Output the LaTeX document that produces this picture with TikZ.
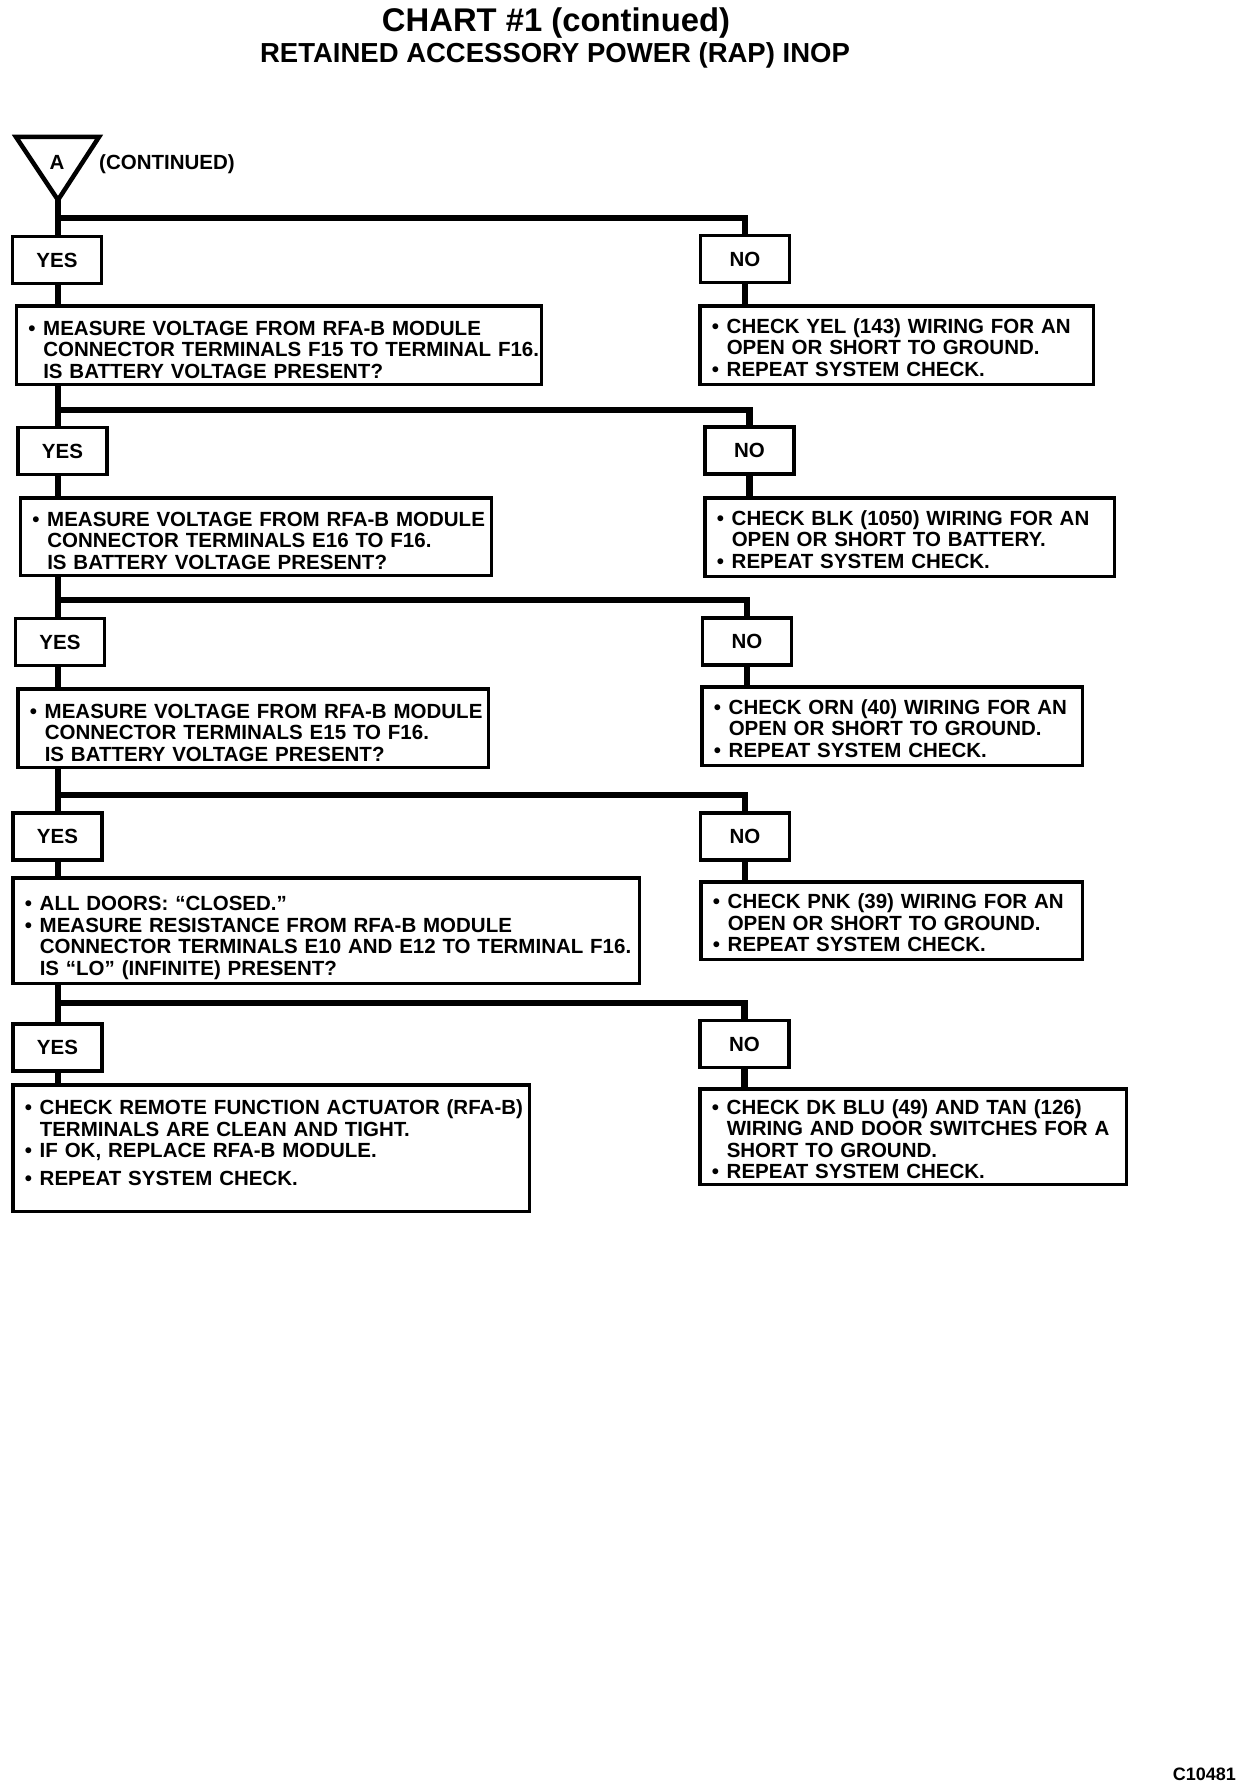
\documentclass[tikz,border=0pt]{standalone}
\usepackage{fontspec}
\setmainfont{Liberation Sans}
\usepackage{tikz}
\setlength{\parindent}{0pt}
\hfuzz=60pt
\newcommand{\boxfont}{\fontsize{20.5}{21.5}\selectfont\bfseries}
\newcommand{\bul}[1]{\mbox{\makebox[15pt][l]{\textbullet}#1}}
\newcommand{\ind}[1]{\mbox{\hspace*{15pt}#1}}
\tikzset{
	ans/.style={draw, line width=3.5pt, minimum width=89pt, minimum height=47pt, inner sep=0pt, font=\boxfont},
	msg/.style={draw, line width=3.5pt, anchor=north west, inner xsep=12pt, inner ysep=4pt, align=left, font=\boxfont},
	textdrop/.style={execute at begin node={\rule{0pt}{#1pt}}},
	wire/.style={line width=6.5pt},
	elbow/.style={to path={-| (\tikztotarget)}},
}

\begin{document}
\begin{tikzpicture}[x=1pt,y=-1pt]
		\path[fill=white,use as bounding box] (0,0) rectangle (1248,1790);
		%
		\node[anchor=base,font=\fontsize{32.8}{36}\selectfont\bfseries] (title) at (556,32) {CHART \#1 (continued)};
		\node[anchor=base,font=\fontsize{27.5}{30}\selectfont\bfseries] (subtitle) at (555,63) {RETAINED ACCESSORY POWER (RAP) INOP};
		%
		\coordinate (apex) at (58,200);
		\draw[line width=4.5pt] (16,137) -- (99,137) -- (apex) -- cycle;
		\node[anchor=base,font=\boxfont,inner sep=0pt] (lblA) at (57,169.5) {A};
		\node[anchor=base west,font=\boxfont,inner sep=0pt] (cont) at (99,169.5) {(CONTINUED)};
		%
		\node[ans] (yes1) at (57,260) {YES};
		\node[ans] (no1) at (745,259) {NO};
		\node[ans] (yes2) at (62.5,451) {YES};
		\node[ans] (no2) at (749.5,450.5) {NO};
		\node[ans] (yes3) at (60,642) {YES};
		\node[ans] (no3) at (747,641.5) {NO};
		\node[ans] (yes4) at (57.5,836.5) {YES};
		\node[ans] (no4) at (745,836.5) {NO};
		\node[ans] (yes5) at (57.5,1047.5) {YES};
		\node[ans] (no5) at (744.5,1044) {NO};
		%
		\node[msg, textdrop=24, text width=501pt, minimum height=78.5pt] (m1) at (14.5,304)
		{\bul{MEASURE VOLTAGE FROM RFA-B MODULE}\\\ind{CONNECTOR TERMINALS F15 TO TERMINAL F16.}\\\ind{IS BATTERY VOLTAGE PRESENT?}};
		\node[msg, textdrop=23, text width=447pt, minimum height=77.5pt] (m2) at (18.5,496)
		{\bul{MEASURE VOLTAGE FROM RFA-B MODULE}\\\ind{CONNECTOR TERMINALS E16 TO F16.}\\\ind{IS BATTERY VOLTAGE PRESENT?}};
		\node[msg, textdrop=24, text width=446.5pt, minimum height=78.5pt] (m3) at (16,687)
		{\bul{MEASURE VOLTAGE FROM RFA-B MODULE}\\\ind{CONNECTOR TERMINALS E15 TO F16.}\\\ind{IS BATTERY VOLTAGE PRESENT?}};
		\node[msg, textdrop=29, text width=602.5pt, minimum height=105.5pt] (m4) at (11,876)
		{\bul{ALL DOORS: ``CLOSED.''}\\\bul{MEASURE RESISTANCE FROM RFA-B MODULE}\\\ind{CONNECTOR TERMINALS E10 AND E12 TO TERMINAL F16.}\\\ind{IS ``LO'' (INFINITE) PRESENT?}};
		\node[msg, text width=492.5pt, minimum height=126.5pt] (m5) at (11,1083)
		{\bul{CHECK REMOTE FUNCTION ACTUATOR (RFA-B)}\\\ind{TERMINALS ARE CLEAN AND TIGHT.}\\\bul{IF OK, REPLACE RFA-B MODULE.}\\[6pt]\bul{REPEAT SYSTEM CHECK.}\rule[-11pt]{0pt}{11pt}};
		%
		\node[msg, textdrop=20, text width=369.5pt, minimum height=78.5pt] (n1) at (698,304)
		{\bul{CHECK YEL (143) WIRING FOR AN}\\\ind{OPEN OR SHORT TO GROUND.}\\\bul{REPEAT SYSTEM CHECK.}};
		\node[msg, textdrop=20, text width=385.5pt, minimum height=78.5pt] (n2) at (703,496)
		{\bul{CHECK BLK (1050) WIRING FOR AN}\\\ind{OPEN OR SHORT TO BATTERY.}\\\bul{REPEAT SYSTEM CHECK.}};
		\node[msg, textdrop=20, text width=356.5pt, minimum height=78.5pt] (n3) at (700,685)
		{\bul{CHECK ORN (40) WIRING FOR AN}\\\ind{OPEN OR SHORT TO GROUND.}\\\bul{REPEAT SYSTEM CHECK.}};
		\node[msg, textdrop=20, text width=357.5pt, minimum height=77.5pt] (n4) at (699,880)
		{\bul{CHECK PNK (39) WIRING FOR AN}\\\ind{OPEN OR SHORT TO GROUND.}\\\bul{REPEAT SYSTEM CHECK.}};
		\node[msg, textdrop=20, text width=402.5pt, minimum height=95.5pt] (n5) at (698,1087)
		{\bul{CHECK DK BLU (49) AND TAN (126)}\\\ind{WIRING AND DOOR SWITCHES FOR A}\\\ind{SHORT TO GROUND.}\\\bul{REPEAT SYSTEM CHECK.}};
		%
		\node[anchor=base east,font=\fontsize{18}{20}\selectfont\bfseries,inner sep=0pt] (code) at (1236,1780) {C10481};
		%
		\coordinate (br1) at (58,218);
		\coordinate (br2) at (58,410);
		\coordinate (br3) at (58,600);
		\coordinate (br4) at (58,795);
		\coordinate (br5) at (58,1003);
		%
		\path[wire]
		(apex) edge (apex |- yes1.north)
		(apex |- yes1.south) edge (apex |- m1.north)
		(apex |- m1.south) edge (apex |- yes2.north)
		(apex |- yes2.south) edge (apex |- m2.north)
		(apex |- m2.south) edge (apex |- yes3.north)
		(apex |- yes3.south) edge (apex |- m3.north)
		(apex |- m3.south) edge (apex |- yes4.north)
		(apex |- yes4.south) edge (apex |- m4.north)
		(apex |- m4.south) edge (apex |- yes5.north)
		(apex |- yes5.south) edge (apex |- m5.north)
		(br1) edge[elbow] (no1.north)
		(br2) edge[elbow] (no2.north)
		(br3) edge[elbow] (no3.north)
		(br4) edge[elbow] (no4.north)
		(br5) edge[elbow] (no5.north)
		(no1.south) edge (no1.south |- n1.north)
		(no2.south) edge (no2.south |- n2.north)
		(no3.south) edge (no3.south |- n3.north)
		(no4.south) edge (no4.south |- n4.north)
		(no5.south) edge (no5.south |- n5.north);
\end{tikzpicture}
\end{document}
